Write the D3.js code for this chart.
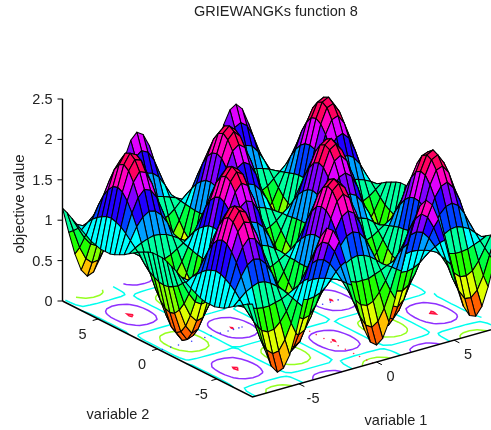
<!DOCTYPE html>
<html><head><meta charset="utf-8">
<script src="https://cdn.jsdelivr.net/npm/d3@7"></script>
<style>
html,body{margin:0;padding:0;background:#fff;overflow:hidden}
svg{display:block;filter:blur(0.3px)}
text{font-family:"Liberation Sans",Arial,sans-serif;fill:#222}
</style></head><body>
<svg id="chart" width="491" height="430"></svg>
<script>
const titleText = "GRIEWANGKs function 8";
const zLabel = "objective value", xLabel = "variable 1", yLabel = "variable 2";
const xTicks = [-5, 0, 5], yTicks = [-5, 0, 5];
const zTicks = [0, 0.5, 1, 1.5, 2, 2.5];
const zTickLabels = ["0", "0.5", "1", "1.5", "2", "2.5"];

// both variables are sampled at 41 points from -8 to 8
const xExtent = [-8, 8];
const sampleCount = 41;

const row00 = [1.16,.77,.41,.14,.02,.05,.23,.54,.92,1.31,1.66,1.90,2.00,1.94,1.74,1.42,1.03,.64,.30,.08,0,.08,.30,.64,1.03,1.42,1.74,1.94,2.00,1.90,1.66,1.31,.92,.54,.23,.05,.02,.14,.41,.77,1.16];
const row01 = [1.16,.78,.43,.18,.06,.09,.26,.56,.92,1.30,1.63,1.86,1.96,1.91,1.71,1.40,1.03,.65,.33,.12,.04,.12,.33,.65,1.03,1.40,1.71,1.91,1.96,1.86,1.63,1.30,.92,.56,.26,.09,.06,.18,.43,.78,1.16];
const row02 = [1.14,.81,.50,.28,.17,.20,.35,.61,.93,1.26,1.56,1.76,1.85,1.80,1.62,1.35,1.03,.69,.41,.22,.16,.22,.41,.69,1.03,1.35,1.62,1.80,1.85,1.76,1.56,1.26,.93,.61,.35,.20,.17,.28,.50,.81,1.14];
const row03 = [1.11,.85,.61,.44,.35,.37,.50,.70,.95,1.21,1.44,1.60,1.66,1.63,1.49,1.28,1.02,.76,.54,.39,.34,.39,.54,.76,1.02,1.28,1.49,1.63,1.66,1.60,1.44,1.21,.95,.70,.50,.37,.35,.44,.61,.85,1.11];
const row04 = [1.08,.91,.76,.64,.59,.60,.68,.81,.97,1.14,1.28,1.39,1.43,1.40,1.32,1.18,1.01,.85,.70,.61,.58,.61,.70,.85,1.01,1.18,1.32,1.40,1.43,1.39,1.28,1.14,.97,.81,.68,.60,.59,.64,.76,.91,1.08];
const row05 = [1.04,.98,.92,.88,.86,.86,.89,.94,.99,1.05,1.11,1.14,1.16,1.15,1.12,1.07,1.01,.94,.89,.86,.85,.86,.89,.94,1.01,1.07,1.12,1.15,1.16,1.14,1.11,1.05,.99,.94,.89,.86,.86,.88,.92,.98,1.04];
const row06 = [1.00,1.05,1.09,1.12,1.14,1.13,1.11,1.07,1.02,.97,.92,.89,.88,.88,.91,.95,1.00,1.05,1.09,1.12,1.13,1.12,1.09,1.05,1.00,.95,.91,.88,.88,.89,.92,.97,1.02,1.07,1.11,1.13,1.14,1.12,1.09,1.05,1.00];
const row07 = [.96,1.11,1.26,1.36,1.41,1.39,1.32,1.20,1.04,.89,.75,.65,.61,.63,.71,.84,.99,1.15,1.28,1.37,1.40,1.37,1.28,1.15,.99,.84,.71,.63,.61,.65,.75,.89,1.04,1.20,1.32,1.39,1.41,1.36,1.26,1.11,.96];
const row08 = [.93,1.17,1.40,1.57,1.65,1.62,1.51,1.31,1.06,.81,.59,.43,.37,.40,.53,.74,.99,1.23,1.45,1.59,1.64,1.59,1.45,1.23,.99,.74,.53,.40,.37,.43,.59,.81,1.06,1.31,1.51,1.62,1.65,1.57,1.40,1.17,.93];
const row09 = [.90,1.22,1.52,1.73,1.84,1.81,1.65,1.40,1.08,.75,.47,.26,.18,.23,.39,.66,.98,1.30,1.58,1.77,1.83,1.77,1.58,1.30,.98,.66,.39,.23,.18,.26,.47,.75,1.08,1.40,1.65,1.81,1.84,1.73,1.52,1.22,.90];
const row10 = [.88,1.25,1.60,1.84,1.96,1.93,1.75,1.46,1.09,.72,.39,.15,.06,.11,.30,.61,.98,1.35,1.67,1.88,1.96,1.88,1.67,1.35,.98,.61,.30,.11,.06,.15,.39,.72,1.09,1.46,1.75,1.93,1.96,1.84,1.60,1.25,.88];
const row11 = [.88,1.27,1.63,1.89,2.01,1.97,1.79,1.48,1.10,.70,.36,.11,.01,.07,.27,.59,.98,1.37,1.70,1.93,2.00,1.93,1.70,1.37,.98,.59,.27,.07,.01,.11,.36,.70,1.10,1.48,1.79,1.97,2.01,1.89,1.63,1.27,.88];
const row12 = [.88,1.26,1.61,1.86,1.98,1.94,1.77,1.47,1.10,.71,.38,.14,.04,.10,.29,.60,.98,1.36,1.68,1.90,1.97,1.90,1.68,1.36,.98,.60,.29,.10,.04,.14,.38,.71,1.10,1.47,1.77,1.94,1.98,1.86,1.61,1.26,.88];
const row13 = [.90,1.23,1.54,1.77,1.87,1.84,1.68,1.42,1.09,.75,.45,.24,.15,.20,.37,.65,.98,1.32,1.61,1.80,1.87,1.80,1.61,1.32,.98,.65,.37,.20,.15,.24,.45,.75,1.09,1.42,1.68,1.84,1.87,1.77,1.54,1.23,.90];
const row14 = [.92,1.19,1.44,1.61,1.70,1.67,1.55,1.34,1.07,.80,.57,.40,.33,.37,.51,.72,.99,1.26,1.49,1.64,1.69,1.64,1.49,1.26,.99,.72,.51,.37,.33,.40,.57,.80,1.07,1.34,1.55,1.67,1.70,1.61,1.44,1.19,.92];
const row15 = [.96,1.14,1.30,1.42,1.47,1.45,1.37,1.23,1.05,.88,.72,.61,.56,.58,.68,.82,1.00,1.17,1.33,1.43,1.46,1.43,1.33,1.17,1.00,.82,.68,.58,.56,.61,.72,.88,1.05,1.23,1.37,1.45,1.47,1.42,1.30,1.14,.96];
const row16 = [1.00,1.07,1.14,1.18,1.21,1.20,1.16,1.10,1.03,.96,.89,.85,.83,.84,.87,.93,1.01,1.08,1.14,1.18,1.20,1.18,1.14,1.08,1.01,.93,.87,.84,.83,.85,.89,.96,1.03,1.10,1.16,1.20,1.21,1.18,1.14,1.07,1.00];
const row17 = [1.04,1.00,.97,.94,.93,.93,.95,.97,1.01,1.05,1.08,1.10,1.11,1.10,1.08,1.05,1.02,.98,.95,.92,.92,.92,.95,.98,1.02,1.05,1.08,1.10,1.11,1.10,1.08,1.05,1.01,.97,.95,.93,.93,.94,.97,1.00,1.04];
const row18 = [1.08,.94,.80,.70,.66,.67,.74,.85,.99,1.13,1.26,1.35,1.38,1.36,1.29,1.17,1.03,.88,.76,.67,.64,.67,.76,.88,1.03,1.17,1.29,1.36,1.38,1.35,1.26,1.13,.99,.85,.74,.67,.66,.70,.80,.94,1.08];
const row19 = [1.12,.88,.65,.49,.42,.43,.55,.73,.97,1.21,1.42,1.57,1.63,1.59,1.47,1.27,1.03,.79,.59,.45,.40,.45,.59,.79,1.03,1.27,1.47,1.59,1.63,1.57,1.42,1.21,.97,.73,.55,.43,.42,.49,.65,.88,1.12];
const row20 = [1.15,.83,.54,.32,.22,.25,.39,.64,.95,1.27,1.55,1.75,1.83,1.78,1.62,1.35,1.04,.72,.45,.27,.21,.27,.45,.72,1.04,1.35,1.62,1.78,1.83,1.75,1.55,1.27,.95,.64,.39,.25,.22,.32,.54,.83,1.15];

// objective value at every (variable 2 row, variable 1 column), variable 2 from -8 to 8
const zValues = [row20,row19,row18,row17,row16,row15,row14,row13,row12,row11,row10,row09,row08,row07,row06,row05,row04,row03,row02,row01,row00,row01,row02,row03,row04,row05,row06,row07,row08,row09,row10,row11,row12,row13,row14,row15,row16,row17,row18,row19,row20];

// floor contours: levels and line colours
const contourLevels = [0.5, 1, 1.5, 1.99];
const contourColors = ["#96ff20", "#00ffee", "#8f30ff", "#ff1040"];
// isolated contour specks on the floor
const blueDotX = [-7.84,-7.3,-6.8,-5.95,-5.1,-4.7,-4.1,-3.6,-3.25,-2.9,-2.7,2,2.5,3,3.5];
const blueDotY = -0.2;
const redDotX = -0.25;
const redDotY = [-2.7,-3.25,-3.9,-4.5,-5.1,-5.7,-6.4,-6.9,-7.5,-8];

// hsv colormap with 16 flat steps
const colorSteps = d3.range(16).map(i => d3.hsl(i * 22.5, 1, 0.5).formatHex());

const svg = d3.select("#chart");
const sampleScale = d3.scaleLinear().domain([0, sampleCount - 1]).range(xExtent);
const axisValues = d3.range(sampleCount).map(sampleScale);

// oblique 3-D projection composed from linear scales
const sxFromX = d3.scaleLinear().domain(xExtent).range([0, 248]);
const sxFromY = d3.scaleLinear().domain(xExtent).range([252.5, 62.5]);
const syFromX = d3.scaleLinear().domain(xExtent).range([0, -70]);
const syFromY = d3.scaleLinear().domain(xExtent).range([397, 301]);
const syFromZ = d3.scaleLinear().domain([0, 2.5]).range([0, -202]);
const project = (x, y, z = 0) => [sxFromX(x) + sxFromY(y), syFromX(x) + syFromY(y) + syFromZ(z)];
const line = d3.line();

// ---- floor contours
const flat = zValues.flat();
const contours = d3.contours().size([sampleCount, sampleCount]).thresholds(contourLevels)(flat);
const gc = d3.scaleLinear().domain([0.5, sampleCount - 0.5]).range(xExtent);
const inside = p => p[0] >= 0.49 && p[0] <= sampleCount - 0.49 && p[1] >= 0.49 && p[1] <= sampleCount - 0.49;
const floorG = svg.append("g").attr("fill", "none").attr("stroke-width", 1.5);
contours.forEach((c, li) => {
  let d = "";
  c.coordinates.forEach(poly => poly.forEach(ring => {
    let open = false;
    ring.forEach(p => {
      if (inside(p)) {
        const q = project(gc(p[0]), gc(p[1]));
        d += (open ? "L" : "M") + q[0].toFixed(1) + "," + q[1].toFixed(1);
        open = true;
      } else open = false;
    });
  }));
  floorG.append("path").attr("d", d).attr("stroke", contourColors[li]);
});
svg.append("g").selectAll("circle").data(blueDotX).join("circle")
  .attr("cx", x => project(x, blueDotY)[0]).attr("cy", x => project(x, blueDotY)[1])
  .attr("r", 0.8).attr("fill", "#3c3cff");
svg.append("g").selectAll("circle").data(redDotY).join("circle")
  .attr("cx", y => project(redDotX, y)[0]).attr("cy", y => project(redDotX, y)[1])
  .attr("r", 0.8).attr("fill", "#ff3050");

// ---- axes
const axisG = svg.append("g").attr("stroke", "#000").attr("fill", "none");
axisG.append("path").attr("stroke-width", 1.5)
  .attr("d", line([project(-8, 8), project(-8, -8), project(8, -8)]));
axisG.append("path").attr("stroke-width", 1.4)
  .attr("d", line([project(-8, 8, 0), project(-8, 8, 2.5)]));
zTicks.forEach(t => {
  const p = project(-8, 8, t);
  axisG.append("path").attr("d", line([p, [p[0] - 5, p[1]]])).attr("stroke-width", 1);
});
xTicks.forEach(t => axisG.append("path").attr("stroke-width", 1).attr("d", line([project(t, -8), project(t, -8.45)])));
yTicks.forEach(t => axisG.append("path").attr("stroke-width", 1).attr("d", line([project(-8, t), project(-8.35, t)])));

// ---- surface, painted back to front; facet colour leans on its near edge,
//      and the lowest facets stay orange rather than wrapping round to red
const colorOf = d3.scaleQuantize().domain([0.1, 1.93]).range(colorSteps);
const cells = [];
for (let j = sampleCount - 2; j >= 0; j--) {
  for (let i = sampleCount - 2; i >= 0; i--) {
    const corners = [[i, j], [i + 1, j], [i + 1, j + 1], [i, j + 1]];
    const nearEdge = (zValues[j][i] + zValues[j][i + 1]) / 2;
    const farEdge = (zValues[j + 1][i] + zValues[j + 1][i + 1]) / 2;
    cells.push({
      z: Math.max(0.7 * nearEdge + 0.3 * farEdge, 0.22),
      pts: corners.map(c => project(axisValues[c[0]], axisValues[c[1]], zValues[c[1]][c[0]]))
    });
  }
}
svg.append("g").attr("stroke", "#000").attr("stroke-width", 1.05).attr("stroke-linejoin", "round")
  .selectAll("path").data(cells).join("path")
  .attr("d", d => line(d.pts) + "Z")
  .attr("fill", d => colorOf(d.z));

// ---- text
const fs = 14.5;
const txt = (x, y, s, anchor = "middle") => svg.append("text").attr("x", x).attr("y", y)
  .attr("text-anchor", anchor).attr("font-size", fs).text(s);
txt(276, 16, titleText);
zTicks.forEach((t, i) => {
  const p = project(-8, 8, t);
  txt(p[0] - 10, p[1] + 5, zTickLabels[i], "end");
});
xTicks.forEach(t => { const p = project(t, -8); txt(p[0] + 14, p[1] + 19, String(t)); });
yTicks.forEach(t => { const p = project(-8, t); txt(p[0] - 15.5, p[1] + 20, String(t)); });
txt(118, 419, yLabel);
txt(396, 425, xLabel);
svg.append("text").attr("transform", "translate(24,204) rotate(-90)")
  .attr("text-anchor", "middle").attr("font-size", 15).text(zLabel);
</script>
</body></html>
